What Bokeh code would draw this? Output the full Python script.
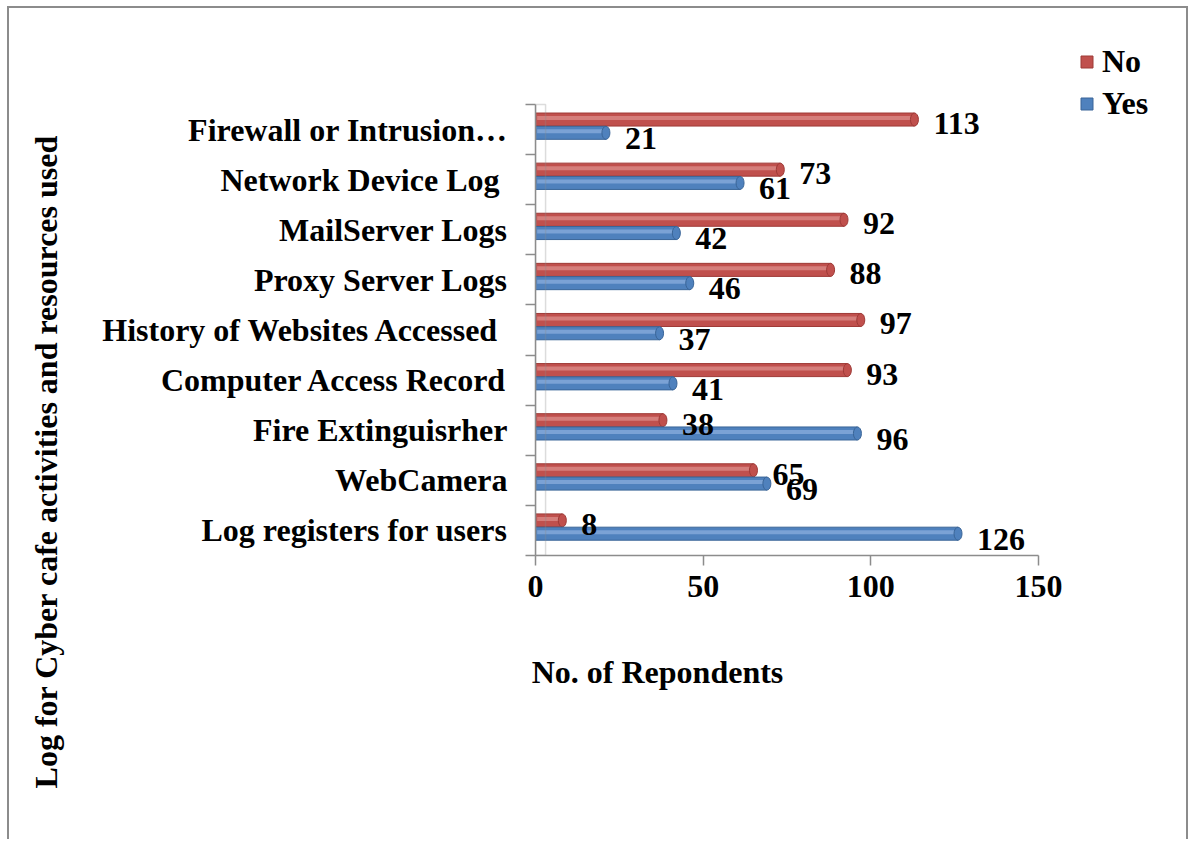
import math
from bokeh.plotting import figure
from bokeh.models import (Range1d, LinearAxis, FixedTicker, Label, Legend, LegendItem,
                          ColumnDataSource, BoxAnnotation)
from bokeh.transform import dodge
from bokeh.core.properties import value
from bokeh.embed import file_html
from bokeh.resources import INLINE

# ---- data (bottom to top) ----
categories = ["Log registers for users", "WebCamera", "Fire Extinguisrher",
              "Computer Access Record", "History of Websites Accessed ",
              "Proxy Server Logs", "MailServer Logs", "Network Device Log ",
              "Firewall or Intrusion\u2026"]
yes_values = [126, 69, 96, 41, 37, 46, 42, 61, 21]
no_values = [8, 65, 38, 93, 97, 88, 92, 73, 113]
series_names = ["No", "Yes"]
x_ticks = [0, 50, 100, 150]
x_title = "No. of Repondents"
y_title = "Log for Cyber cafe activities and resources used"

FONT = "Liberation Serif"
FS = "32px"
RED, RED_HI, RED_LO = "#C0504D", "#DA8A87", "#9E3A37"
BLUE, BLUE_HI, BLUE_LO = "#4F81BD", "#86AADB", "#3A6598"
GREY = "#8c8c8c"

n = len(categories)
centers = [i + 0.5 for i in range(n)]      # category slot centres on the y scale
bounds = [float(i) for i in range(n + 1)]  # slot boundaries (tick marks)
X_MAX = 150

# pixel geometry: value axis 0..150 spans 535..1038 px, slots span 555..104 px
px_per_x = (1038 - 535) / X_MAX
px_per_y = (555 - 104) / n
x_end = (1190 - 535) / px_per_x          # frame reaches the right border
y_end = (555 - 8) / px_per_y             # frame reaches the top border

src = ColumnDataSource(dict(
    cat=categories, yc=centers, yes=yes_values, no=no_values,
    yes_lbl=[str(v) for v in yes_values], no_lbl=[str(v) for v in no_values],
))

p = figure(width=1181, height=833, x_range=Range1d(0, x_end), y_range=Range1d(0, y_end),
           output_backend="svg", toolbar_location=None, y_axis_location=None, x_axis_location=None,
           min_border_left=526, min_border_right=0, min_border_top=0, min_border_bottom=286)
p.styles = {"margin-left": "7px", "margin-top": "6px",
            "border-top": "2px solid #8c8c8c", "border-left": "2px solid #8c8c8c",
            "border-right": "2px solid #8c8c8c"}
p.outline_line_color = None
p.grid.visible = False
p.background_fill_color = "white"
p.border_fill_color = "white"

cat_axis = LinearAxis(ticker=FixedTicker(ticks=centers, minor_ticks=bounds), bounds=(0, n),
                      major_label_overrides={c: lab for c, lab in zip(centers, categories)},
                      major_tick_out=0, major_tick_in=0, minor_tick_out=10, minor_tick_in=0,
                      axis_line_color=GREY, axis_line_width=1.5, major_tick_line_color=None,
                      minor_tick_line_color=GREY, minor_tick_line_width=1.5,
                      major_label_standoff=18,
                      major_label_text_font=FONT, major_label_text_font_style="bold",
                      major_label_text_font_size=FS, major_label_text_color="black")
p.add_layout(cat_axis, "left")

x_axis = LinearAxis(ticker=FixedTicker(ticks=x_ticks), bounds=(0, X_MAX),
                    major_tick_out=10, major_tick_in=0,
                    minor_tick_out=0, minor_tick_in=0, axis_line_color=GREY,
                    major_tick_line_color=GREY, axis_line_width=1.5, major_tick_line_width=1.5,
                    major_label_standoff=10, major_label_text_font=FONT,
                    major_label_text_font_style="bold", major_label_text_font_size=FS,
                    major_label_text_color="black")
p.add_layout(x_axis, "below")

# 3D wall outline
p.add_layout(BoxAnnotation(left=0, right=3, bottom=0, top=n, fill_alpha=0,
                           line_color=GREY, line_width=1.5))

# bars (cylinder look: body, highlight stripe, rounded end cap)
red = p.hbar(y=dodge("yc", 0.20), left=0, right="no", height=0.26, source=src,
             fill_color=RED, line_color=RED_LO, line_width=1)
p.hbar(y=dodge("yc", 0.23), left=0.5, right="no", height=0.08, source=src,
       fill_color=RED_HI, line_color=None, fill_alpha=0.8)
p.ellipse(x="no", y=dodge("yc", 0.20), width=8, width_units="screen", height=0.26, source=src,
          fill_color=RED, line_color=RED_LO, line_width=1)
blue = p.hbar(y=dodge("yc", -0.065), left=0, right="yes", height=0.26, source=src,
              fill_color=BLUE, line_color=BLUE_LO, line_width=1)
p.hbar(y=dodge("yc", -0.035), left=0.5, right="yes", height=0.08, source=src,
       fill_color=BLUE_HI, line_color=None, fill_alpha=0.8)
p.ellipse(x="yes", y=dodge("yc", -0.065), width=8, width_units="screen", height=0.26, source=src,
          fill_color=BLUE, line_color=BLUE_LO, line_width=1)

# value labels
p.text(x="no", y=dodge("yc", 0.12), text="no_lbl", source=src, x_offset=19,
       text_align="left", text_baseline="middle", text_font=value(FONT), text_font_style="bold",
       text_font_size=FS, text_color="black")
p.text(x="yes", y=dodge("yc", -0.18), text="yes_lbl", source=src, x_offset=19,
       text_align="left", text_baseline="middle", text_font=value(FONT), text_font_style="bold",
       text_font_size=FS, text_color="black")

# axis titles (placed in the side panels, screen units)
p.add_layout(Label(x=122, y=-36, x_units="screen", y_units="screen", text=x_title,
                   text_align="center", text_baseline="middle", text_font=FONT,
                   text_font_style="bold", text_font_size=FS, text_color="black"), "below")
p.add_layout(Label(x=-18, y=94, x_units="screen", y_units="screen", text=y_title,
                   angle=math.pi / 2, text_align="center", text_baseline="middle",
                   text_font=FONT, text_font_style="bold", text_font_size=FS,
                   text_color="black"), "left")

# legend
legend = Legend(items=[LegendItem(label=series_names[0], renderers=[red]),
                       LegendItem(label=series_names[1], renderers=[blue])],
                location=(544, 433), orientation="vertical", border_line_color=None,
                background_fill_alpha=0, padding=0, margin=0, spacing=5, glyph_width=15,
                glyph_height=15, label_height=30, label_standoff=8, label_text_font=FONT,
                label_text_font_style="bold", label_text_font_size=FS, label_text_color="black")
p.add_layout(legend, "center")

open("out.html", "w").write(file_html(p, INLINE))
